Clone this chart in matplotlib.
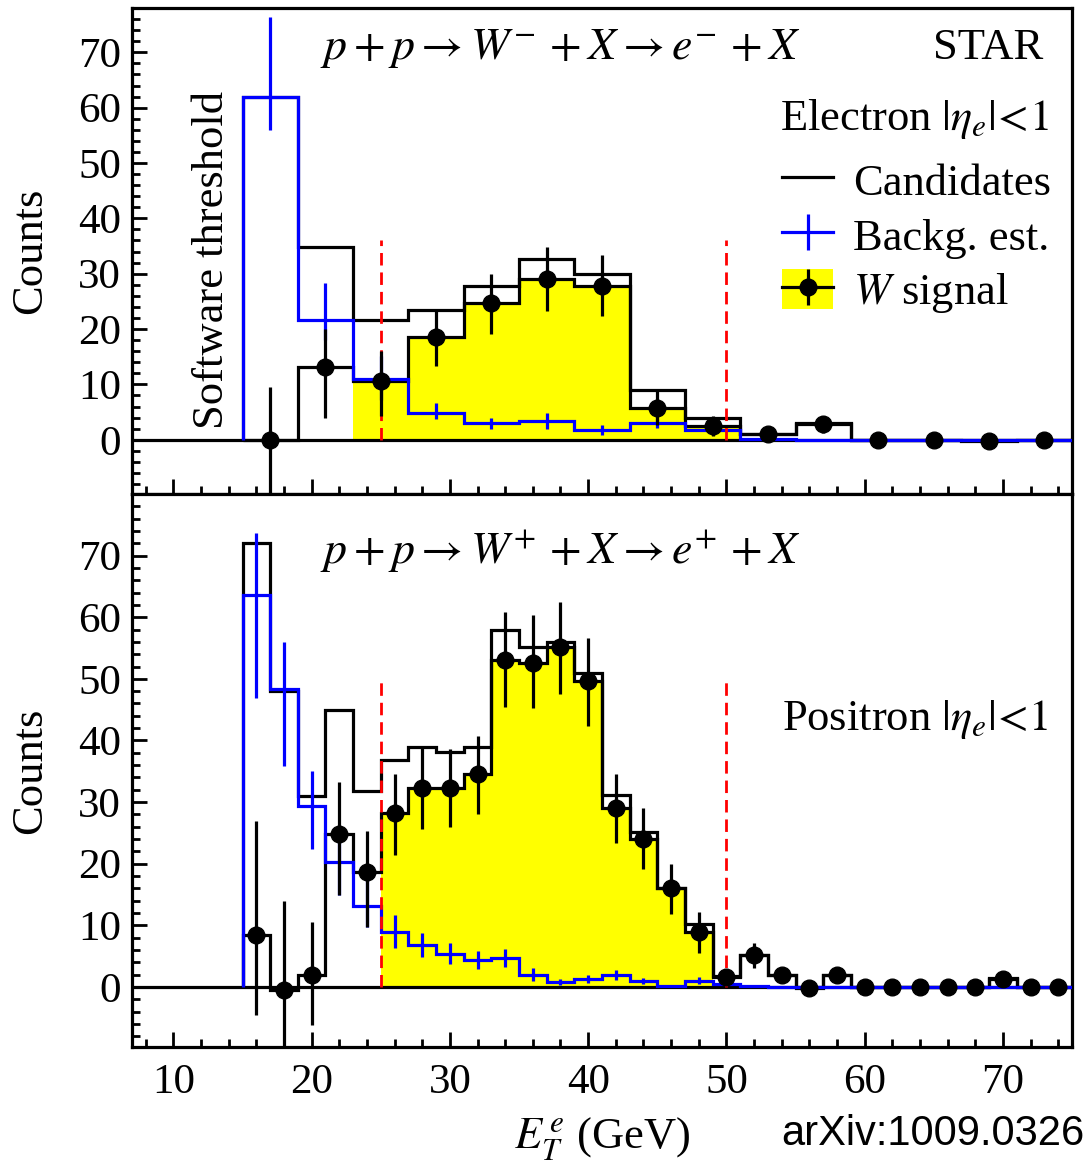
import numpy as np
import matplotlib
matplotlib.use("Agg")
import matplotlib.pyplot as plt
from matplotlib.patches import Patch
from matplotlib.lines import Line2D
from matplotlib.container import ErrorbarContainer
from matplotlib.legend_handler import HandlerErrorbar
from matplotlib.ticker import MultipleLocator

plt.rcParams["font.family"] = ["Liberation Serif", "DejaVu Serif"]
plt.rcParams["mathtext.fontset"] = "stix"

# ---- W- -> e- panel (4 GeV bins, 15..75) ----
top_edges = np.arange(15, 76, 4)
top_cand = [62, 34.8, 21.7, 23.5, 27.7, 32.7, 30.0, 9.0, 4.0, 1.0, 3.0, 0, 0, 0, 0]
top_sig = [0, 13.1, 10.7, 18.5, 24.7, 29.0, 27.8, 5.8, 2.5, 1.0, 2.8, 0, 0, -0.3, 0]
top_sig_lo = [10, 9.1, 6.4, 5.1, 5.6, 5.7, 5.4, 3.1, 1.8, 1.0, 1.5, 0.5, 0.5, 0.5, 0.5]
top_sig_hi = [9.5, 6.9, 5.4, 5.1, 5.3, 5.8, 5.5, 3.1, 1.8, 1.0, 1.5, 0.5, 0.5, 0.5, 0.5]
top_bkg = [62, 21.7, 11.0, 4.9, 2.95, 3.3, 1.75, 3.1, 1.7, 0.2, 0, 0, 0, 0, 0]
top_bkg_lo = [6.0, 3.7, 3.9, 1.2, 1.0, 1.4, 0.9, 0.9, 0.9, 0.2, 0, 0, 0, 0, 0]
top_bkg_hi = [14.3, 6.7, 4.2, 1.8, 1.0, 1.6, 0.9, 0.9, 0.9, 0.2, 0, 0, 0, 0, 0]
top_fill = (23, 51)
top_cut_height = 36

# ---- W+ -> e+ panel (2 GeV bins, 15..75) ----
bot_edges = np.arange(15, 76, 2)
bot_cand = [72.1, 48.0, 31.0, 44.9, 31.8, 36.8, 39.0, 38.1, 39.0, 58.0,
            55.1, 55.9, 50.9, 31.1, 25.1, 16.1, 10.2, 1.7, 5.1, 1.9,
            0, 2.0, 0, 0, 0, 0, 0, 1.5, 0, 0]
bot_sig = [8.4, -0.5, 1.9, 24.8, 18.6, 28.2, 32.3, 32.3, 34.5, 53.1,
           52.6, 55.1, 49.6, 29.1, 24.0, 16.0, 8.9, 1.6, 5.1, 1.9,
           -0.2, 1.9, 0, 0, 0, 0, 0, 1.3, 0, 0]
bot_sig_lo = [13, 12, 8.1, 9.9, 8.8, 6.8, 6.7, 6.3, 6.4, 7.6,
              7.4, 7.5, 7.3, 5.8, 4.8, 4.1, 3.4, 1.0, 2.0, 1.0,
              0.5, 1.0, 0.5, 0.5, 0.5, 0.5, 0.5, 0.8, 0.5, 0.5]
bot_sig_hi = [18.5, 14.5, 8.6, 8.5, 6.7, 6.4, 6.5, 6.3, 6.3, 7.8,
              7.7, 7.4, 7.1, 5.5, 5.1, 3.9, 3.3, 1.0, 2.0, 1.0,
              0.5, 1.0, 0.5, 0.5, 0.5, 0.5, 0.5, 0.8, 0.5, 0.5]
bot_bkg = [63.6, 48.3, 29.3, 20.2, 13.2, 8.9, 6.8, 5.4, 4.4, 4.7,
           2.0, 0.8, 1.3, 2.0, 1.0, 0.1, 1.0, 0.4, 0.1, 0,
           0, 0, 0, 0, 0, 0, 0, 0, 0, 0]
bot_bkg_lo = [16.7, 12.5, 6.9, 5.3, 3.4, 2.6, 2.0, 1.6, 1.5, 1.5,
              1.0, 0.5, 0.6, 0.8, 0.5, 0.1, 0.6, 0.3, 0.1, 0,
              0, 0, 0, 0, 0, 0, 0, 0, 0, 0]
bot_bkg_hi = [10.0, 7.6, 5.8, 5.0, 5.0, 2.8, 2.0, 1.8, 1.5, 1.5,
              1.0, 0.5, 0.6, 0.8, 0.5, 0.1, 0.6, 0.3, 0.1, 0,
              0, 0, 0, 0, 0, 0, 0, 0, 0, 0]
bot_fill = (25, 49)
bot_cut_height = 50

cut_x = [25, 50]
y_ticks = [0, 10, 20, 30, 40, 50, 60, 70]

LW = 2.3
FS = 32


def draw_panel(ax, edges, cand, sig, sig_lo, sig_hi, bkg, bkg_lo, bkg_hi,
               fill_range, cut_height):
    centers = 0.5 * (edges[:-1] + edges[1:])
    sig = np.asarray(sig, dtype=float)

    # yellow W signal region
    sel = (edges[:-1] >= fill_range[0]) & (edges[1:] <= fill_range[1])
    idx = np.where(sel)[0]
    ax.stairs(sig[idx], edges[idx[0]:idx[-1] + 2], fill=True,
              color="#ffff00", linewidth=0, zorder=1)

    ax.axhline(0, color="black", lw=LW, zorder=2)
    ax.stairs(cand, edges, color="black", lw=LW, zorder=3)
    ax.stairs(sig, edges, color="black", lw=LW, zorder=3)
    ax.stairs(bkg, edges, color="#0000ff", lw=LW, zorder=4)
    ax.errorbar(centers, bkg, yerr=[bkg_lo, bkg_hi], fmt="none",
                ecolor="#0000ff", elinewidth=LW, capsize=0, zorder=4)

    for x in cut_x:
        ax.plot([x, x], [0, cut_height], color="red", lw=2.0,
                linestyle=(0, (4.5, 2.5)), zorder=5)

    ax.errorbar(centers, sig, yerr=[sig_lo, sig_hi], fmt="o", color="black",
                ms=12, elinewidth=LW, capsize=0, zorder=6)

    ax.set_xlim(7, 75)
    ax.xaxis.set_major_locator(MultipleLocator(10))
    ax.xaxis.set_minor_locator(MultipleLocator(2))
    ax.set_yticks(y_ticks)
    ax.yaxis.set_minor_locator(MultipleLocator(2))
    ax.tick_params(which="both", direction="in", top=False, right=False,
                   width=2.0, labelsize=31)
    ax.tick_params(which="major", length=11)
    ax.tick_params(which="minor", length=5.5)
    ax.tick_params(axis="y", pad=8)
    ax.tick_params(axis="x", pad=12)
    for sp in ax.spines.values():
        sp.set_linewidth(LW)
    ax.set_ylabel("Counts", fontsize=FS)
    ax.yaxis.set_label_coords(-0.087, 0.5)


fig = plt.figure(figsize=(10.86, 11.61), dpi=100)
ax1 = fig.add_axes([0.1215, 0.5745, 0.8656, 0.4186])
ax2 = fig.add_axes([0.1215, 0.0982, 0.8656, 0.4763])

draw_panel(ax1, top_edges, top_cand, top_sig, top_sig_lo, top_sig_hi,
           top_bkg, top_bkg_lo, top_bkg_hi, top_fill, top_cut_height)
draw_panel(ax2, bot_edges, bot_cand, bot_sig, bot_sig_lo, bot_sig_hi,
           bot_bkg, bot_bkg_lo, bot_bkg_hi, bot_fill, bot_cut_height)

ax1.set_ylim(-9.8, 78)
ax2.set_ylim(-9.75, 80)
ax1.tick_params(labelbottom=False)

# texts
ax1.text(20.6, 70.7, r"$p+p\rightarrow W^{-}\,+X\rightarrow e^{-}\,+X$",
         fontsize=33, ha="left", va="center")
ax2.text(20.6, 70.7, r"$p+p\rightarrow W^{+}\,+X\rightarrow e^{+}\,+X$",
         fontsize=33, ha="left", va="center")
ax1.text(72.9, 70.7, "STAR", fontsize=FS, ha="right", va="center")
ax1.text(73.3, 58.0, r"Electron $|\eta_e|\!<\!1$", fontsize=FS,
         ha="right", va="center")
ax2.text(73.3, 43.4, r"Positron $|\eta_e|\!<\!1$", fontsize=FS,
         ha="right", va="center")
ax1.text(12.8, 32.4, "Software threshold", fontsize=FS, rotation=90,
         ha="center", va="center")

ax2.set_xlabel(r"$E_T^{\,e}$ (GeV)", fontsize=FS, labelpad=9)
fig.text(0.999, 0.0138, "arXiv:1009.0326", fontsize=30, ha="right",
         va="baseline", family="Liberation Sans")

# legend
h_cand = Line2D([], [], color="black", lw=LW)
h_bkg = ax1.errorbar([np.nan], [np.nan], yerr=[1], fmt="-", color="#0000ff",
                     lw=LW, elinewidth=LW, capsize=0)
h_sig_pts = ax1.errorbar([np.nan], [np.nan], yerr=[1], fmt="o-", color="black",
                         ms=12, lw=LW, elinewidth=LW, capsize=0)
h_sig = (Patch(facecolor="#ffff00", edgecolor="none"), h_sig_pts)
ax1.legend([h_cand, h_bkg, h_sig], ["Candidates", "Backg. est.", r"$W$ signal"],
           loc="upper left", bbox_to_anchor=(0.6915, 0.688), frameon=False,
           fontsize=FS, handlelength=1.15, handleheight=1.0,
           handletextpad=0.45, labelspacing=0.24, borderpad=0,
           borderaxespad=0, numpoints=1,
           handler_map={ErrorbarContainer: HandlerErrorbar(yerr_size=0.4)})

fig.savefig("out.png", dpi=100)
